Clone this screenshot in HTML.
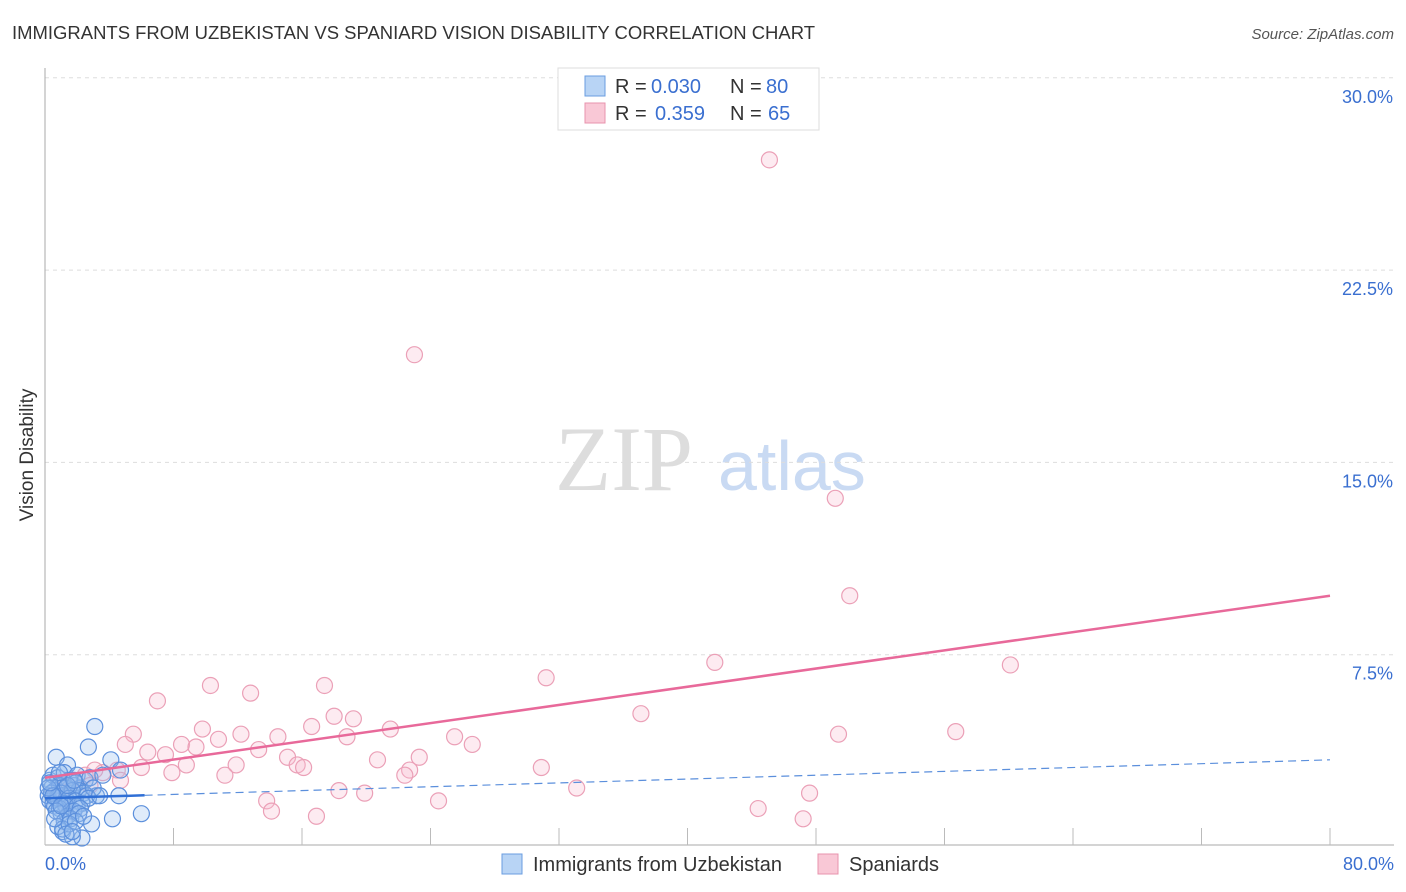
<!DOCTYPE html>
<html><head><meta charset="utf-8"><style>
body{margin:0;background:#fff;font-family:"Liberation Sans",sans-serif;}
svg{display:block}
</style></head><body>
<svg id="chart" width="1406" height="892" xmlns="http://www.w3.org/2000/svg">
<text x="12" y="39" font-size="18" fill="#333" textLength="803" lengthAdjust="spacingAndGlyphs">IMMIGRANTS FROM UZBEKISTAN VS SPANIARD VISION DISABILITY CORRELATION CHART</text>
<text x="1394" y="39" font-size="15" fill="#555" font-style="italic" text-anchor="end">Source: ZipAtlas.com</text>
<text x="33" y="455" font-size="19" fill="#333" text-anchor="middle" transform="rotate(-90 33 455)">Vision Disability</text>
<g><text x="555" y="490" font-size="92" fill="#ddd" font-family="Liberation Serif,serif">ZIP</text><text x="718" y="490" font-size="70" fill="#c9daf3">atlas</text></g>
<g id="grid"></g><g id="axes"></g><g id="pts"></g><g id="lines"></g>
<g font-size="20">
<rect x="558" y="68" width="261" height="62" fill="#fff" stroke="#ddd"/>
<rect x="585" y="76" width="20" height="20" fill="#b8d4f5" stroke="#6a9de0"/>
<rect x="585" y="103" width="20" height="20" fill="#f9c8d6" stroke="#e893ad"/>
<text x="615" y="93" fill="#333">R =</text><text x="651" y="93" fill="#3a6fd0">0.030</text>
<text x="730" y="93" fill="#333">N =</text><text x="766" y="93" fill="#3a6fd0">80</text>
<text x="615" y="120" fill="#333">R =</text><text x="655" y="120" fill="#3a6fd0">0.359</text>
<text x="730" y="120" fill="#333">N =</text><text x="768" y="120" fill="#3a6fd0">65</text>
</g>
<g>
<rect x="502" y="854" width="20" height="20" fill="#b8d4f5" stroke="#6a9de0"/>
<text x="533" y="871" font-size="20" fill="#333">Immigrants from Uzbekistan</text>
<rect x="818" y="854" width="20" height="20" fill="#f9c8d6" stroke="#e893ad"/>
<text x="849" y="871" font-size="20" fill="#333">Spaniards</text>
</g>
</svg>
<script>
const xTicks=[0,8,16,24,32,40,48,56,64,72,80];
const yTicks=[7.5,15,22.5,30];
const yTickLabels=["7.5%","15.0%","22.5%","30.0%"];
const xEndLabels=["0.0%","80.0%"];
const pinkX=[45.1,23.0,49.2,50.1,41.7,60.1,31.2,7.0,10.3,12.8,17.4,37.1,18.0,19.2,16.6,21.5,9.8,5.5,12.2,56.7,49.4,18.8,25.5,26.6,5.0,14.5,10.8,8.5,6.4,9.4,7.5,13.3,15.1,15.7,20.7,23.3,11.9,16.1,6.0,8.8,7.9,11.2,22.7,22.4,30.9,4.5,3.6,2.5,0.9,13.8,14.1,18.3,19.9,24.5,33.1,47.6,44.4,47.2,16.9,3.1,4.7,1.6,0.6,1.2,2.8];
const pinkY=[26.8,19.2,13.6,9.8,7.2,7.1,6.6,5.7,6.3,6.0,6.3,5.2,5.1,5.0,4.7,4.6,4.6,4.4,4.4,4.5,4.4,4.3,4.3,4.0,4.0,4.3,4.2,4.0,3.7,3.9,3.6,3.8,3.5,3.2,3.4,3.5,3.2,3.1,3.1,3.2,2.9,2.8,3.0,2.8,3.1,3.0,2.9,2.8,2.2,1.8,1.4,2.2,2.1,1.8,2.3,2.1,1.5,1.1,1.2,3.0,2.6,2.6,2.0,1.8,2.4];
const blueX=[3.1,2.7,0.7,4.1,1.4,4.7,6.0,4.2,4.6,2.9,1.1,2.3,1.7,0.3,0.5,0.8,1.0,1.2,1.5,1.8,2.0,2.2,2.5,0.4,0.6,0.9,1.3,1.6,1.9,2.1,2.4,2.8,3.2,0.2,0.7,1.1,1.4,1.7,2.6,3.0,0.3,0.5,0.8,1.0,1.2,1.5,1.9,2.3,0.4,0.6,0.9,1.3,1.6,2.0,2.7,3.4,0.2,0.5,1.0,1.4,1.8,2.2,0.3,0.7,1.2,1.6,2.1,0.8,1.1,1.5,1.9,0.6,1.3,1.7,2.4,3.6,1.0,1.4,0.9,1.8];
const blueY=[4.7,3.9,3.5,3.4,3.2,3.0,1.3,1.1,2.0,0.9,0.6,0.35,0.4,2.6,2.8,2.7,2.5,2.9,2.6,2.4,2.8,2.3,2.6,2.3,2.2,2.4,2.3,2.1,2.5,2.2,2.1,2.7,2.0,2.0,1.9,2.0,1.8,2.2,2.0,2.3,1.8,1.7,1.9,2.1,1.7,1.9,1.8,1.7,2.1,1.6,1.5,1.6,1.4,1.6,1.9,2.0,2.3,2.0,1.3,1.2,1.4,1.5,2.5,1.4,1.0,1.1,1.3,0.8,0.7,0.9,1.0,1.1,0.5,0.6,1.2,2.8,1.6,2.4,2.9,2.6];
const pinkFit=[2.7,9.8];
const blueFit=[1.9,3.4];
const NS="http://www.w3.org/2000/svg";
const X=v=>45+v/80*1285, Y=v=>847-v/7.5*192.3;
function mk(t,a,p){const e=document.createElementNS(NS,t);for(const k in a)e.setAttribute(k,a[k]);document.getElementById(p).appendChild(e);return e;}
yTicks.forEach((v,i)=>{
 const g=mk('line',{x1:45,x2:1394,y1:Y(v),y2:Y(v),stroke:'#ddd','stroke-dasharray':'4,4'},'grid');
 
 
 const t=mk('text',{x:1393,y:Y(v)+25,'font-size':18,fill:'#3a6fd0','text-anchor':'end'},'axes');t.textContent=yTickLabels[i];
 
 
});
const ax=mk('line',{x1:45,x2:1394,y1:845,y2:845,stroke:'#aaa'},'axes');


const ay=mk('line',{x1:45,x2:45,y1:68,y2:845,stroke:'#aaa'},'axes');


xTicks.forEach(v=>{const l=mk('line',{x1:X(v),x2:X(v),y1:828,y2:845,stroke:'#bbb'},'axes');
 
 });
[[0,'start',45],[80,'end',1394]].forEach((d,i)=>{const t=mk('text',{x:d[2],y:870,'font-size':18,fill:'#3a6fd0','text-anchor':d[1]},'axes');t.textContent=xEndLabels[i];
 
 });
pinkX.forEach((x,i)=>{const c=mk('circle',{cx:X(x),cy:Y(pinkY[i]),r:8,fill:'rgba(249,190,208,0.3)',stroke:'#eba0b7','stroke-width':1.2},'pts');
 
 });
blueX.forEach((x,i)=>{const c=mk('circle',{cx:X(x),cy:Y(blueY[i]),r:8,fill:'rgba(150,190,240,0.3)',stroke:'#5b8fdc','stroke-width':1.2},'pts');
 
 });
const pl=mk('line',{x1:X(0),y1:Y(pinkFit[0]),x2:X(80),y2:Y(pinkFit[1]),stroke:'#e8699a','stroke-width':2.5},'lines');


const bs=(v)=>blueFit[0]+(blueFit[1]-blueFit[0])*v/80;
const b1=mk('line',{x1:X(0),y1:Y(bs(0)),x2:X(6.2),y2:Y(bs(6.2)),stroke:'#2f6fd6','stroke-width':2.5},'lines');


const b2=mk('line',{x1:X(6.2),y1:Y(bs(6.2)),x2:X(80),y2:Y(bs(80)),stroke:'#5b8fdc','stroke-width':1.2,'stroke-dasharray':'8,5'},'lines');


</script>
</body></html>
